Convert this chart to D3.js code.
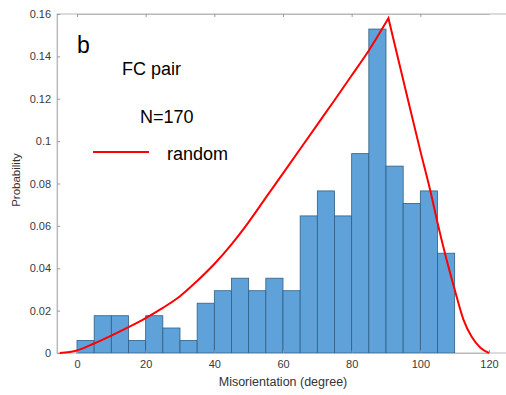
<!DOCTYPE html>
<html>
<head>
<meta charset="utf-8">
<script src="https://cdn.jsdelivr.net/npm/d3@7"></script>
<style>
  body { margin: 0; background: #fff; }
  svg { display: block; font-family: "Liberation Sans", Arial, sans-serif; }
</style>
</head>
<body>
<svg width="506" height="395"></svg>
<script>
// histogram bins, 5 degree wide
const binStarts = [0, 5, 10, 15, 20, 25, 30, 35, 40, 45, 50, 55, 60, 65, 70, 75, 80, 85, 90, 95, 100, 105];
const probability = [0.0059, 0.0176, 0.0176, 0.0059, 0.0176, 0.0118, 0.0059, 0.0235, 0.0294, 0.0353, 0.0294,
    0.0353, 0.0294, 0.0647, 0.0765, 0.0647, 0.0941, 0.1529, 0.0882, 0.0706, 0.0765, 0.0471];
const binWidth = 5;

// random distribution curve (rising part, then falling part from the peak)
const riseAngle = [-5, 0, 5, 10, 15, 20, 25, 30, 35, 40, 45, 50, 55, 60, 65, 70, 75, 80, 85, 90.7];
const riseProb = [0, 0.0012, 0.0045, 0.0082, 0.0122, 0.0165, 0.0213, 0.0268, 0.034, 0.042, 0.0513, 0.0618,
    0.0733, 0.0848, 0.0963, 0.1078, 0.1193, 0.131, 0.1428, 0.158];
const fallAngle = [90.7, 95, 100, 103, 105, 107.5, 110, 112.5, 115, 117.5, 120];
const fallProb = [0.158, 0.129, 0.0954, 0.076, 0.0615, 0.045, 0.030, 0.016, 0.0075, 0.0025, 0];

const xTicks = [0, 20, 40, 60, 80, 100, 120];
const yTicks = [0, 0.02, 0.04, 0.06, 0.08, 0.1, 0.12, 0.14, 0.16];

let svg = d3.select("svg");

let x = d3.scaleLinear().domain([0, 120]).range([77, 489]);
let y = d3.scaleLinear().domain([0, 0.16]).range([353, 14]);

let left = x(-5.8), right = x(127);

// frame
svg.append("rect")
    .attr("x", left).attr("y", y(0.16))
    .attr("width", right - left).attr("height", y(0) - y(0.16))
    .attr("fill", "none").attr("stroke", "#b8b8b8").attr("stroke-width", 1);

// bars
svg.append("g").selectAll("rect")
    .data(binStarts)
    .enter().append("rect")
    .attr("x", function (d) { return x(d); })
    .attr("y", function (d, i) { return y(probability[i]); })
    .attr("width", function (d) { return x(d + binWidth) - x(d); })
    .attr("height", function (d, i) { return y(0) - y(probability[i]); })
    .attr("fill", "#5fa2da")
    .attr("stroke", "#2f5f86")
    .attr("stroke-width", 0.8);

// axes
let xAxis = svg.append("g")
    .attr("transform", "translate(0," + y(0) + ")")
    .call(d3.axisBottom(x).tickValues(xTicks).tickSizeInner(-3).tickSizeOuter(0).tickPadding(7));
let xTop = svg.append("g")
    .attr("transform", "translate(0," + y(0.16) + ")")
    .call(d3.axisTop(x).tickValues(xTicks).tickSizeInner(-3).tickSizeOuter(0).tickFormat(""));
let yAxis = svg.append("g")
    .attr("transform", "translate(" + left + ",0)")
    .call(d3.axisLeft(y).tickValues(yTicks).tickSizeInner(-3).tickSizeOuter(0).tickPadding(6)
        .tickFormat(function (d) { return d === 0 ? "0" : String(+d.toFixed(2)); }));

[xAxis, xTop, yAxis].forEach(function (g) {
    g.select(".domain").attr("stroke", "#b8b8b8");
    g.selectAll(".tick line").attr("stroke", "#999");
    g.selectAll(".tick text").attr("fill", "#3a3a3a").style("font-size", "11px")
        .style("font-family", "'Liberation Sans', Arial, sans-serif");
});
xTop.selectAll(".tick").filter(function (d) { return d === 120; }).remove();

// random curve, drawn as two monotone pieces so the peak stays sharp
function curvePath(angles, probs) {
    return d3.line()
        .x(function (d) { return x(d); })
        .y(function (d, i) { return y(probs[i]); })
        .curve(d3.curveMonotoneX)(angles);
}

svg.append("path")
    .attr("d", curvePath(riseAngle, riseProb) + curvePath(fallAngle, fallProb).replace(/^M/, "L"))
    .attr("fill", "none")
    .attr("stroke", "#ff0000")
    .attr("stroke-width", 2)
    .attr("stroke-linejoin", "miter");

// labels
svg.append("text").attr("x", 77).attr("y", 53).text("b")
    .style("font-size", "23px").attr("fill", "#000");
svg.append("text").attr("x", 122).attr("y", 75).text("FC pair")
    .style("font-size", "18px").attr("fill", "#000");
svg.append("text").attr("x", 140).attr("y", 123).text("N=170")
    .style("font-size", "18px").attr("fill", "#000");

svg.append("line")
    .attr("x1", 93).attr("x2", 149).attr("y1", 152).attr("y2", 152)
    .attr("stroke", "#ff0000").attr("stroke-width", 2);
svg.append("text").attr("x", 167).attr("y", 160).text("random")
    .style("font-size", "18px").attr("fill", "#000");

svg.append("text")
    .attr("x", 283).attr("y", 386)
    .attr("text-anchor", "middle")
    .text("Misorientation (degree)")
    .style("font-size", "12.5px").attr("fill", "#333");

svg.append("text")
    .attr("transform", "translate(20,180) rotate(-90)")
    .attr("text-anchor", "middle")
    .text("Probability")
    .style("font-size", "11.5px").attr("fill", "#333");
</script>
</body>
</html>
